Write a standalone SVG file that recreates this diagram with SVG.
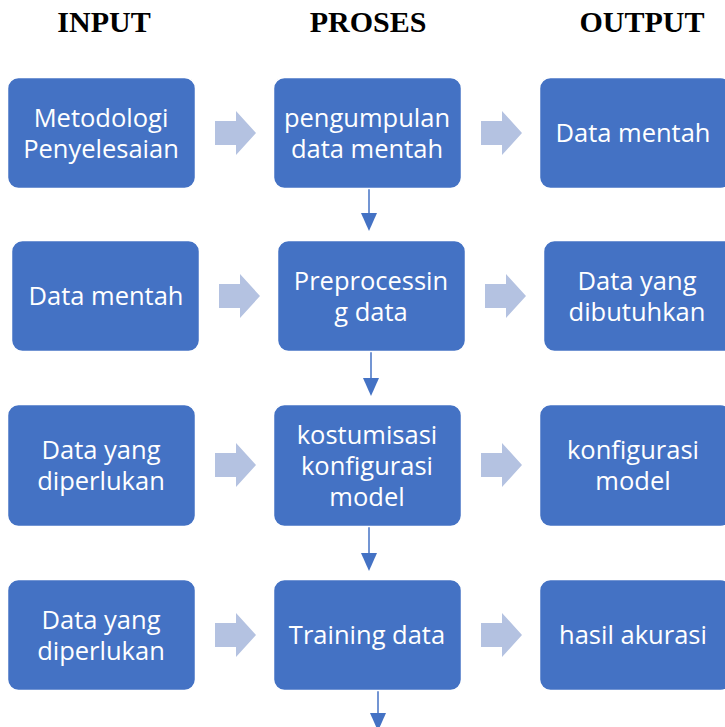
<svg xmlns="http://www.w3.org/2000/svg" width="725" height="727" viewBox="0 0 725 727">
  <style>
    .box { fill: #4472C4; stroke: #ffffff; stroke-width: 1.5; }
    .lbl { fill: #ffffff; font-family: "Open Sans", "Noto Sans", sans-serif; font-size: 25.5px; text-anchor: middle; }
    .hdr { fill: #000000; font-family: "Liberation Serif", serif; font-weight: bold; font-size: 30px; text-anchor: middle; }
    .blk { fill: #B4C2E1; }
    .down { stroke: #4472C4; stroke-width: 1.5; fill: none; }
    .head { fill: #4472C4; }
  </style>
  <defs>
    <!-- block arrow pointing right, origin at left/centre -->
    <path id="blockArrow" class="blk" d="M0,-12 H21 V-22 L41,0 L21,22 V12 H0 Z"/>
  </defs>
  <rect width="725" height="727" fill="#ffffff"/>

  <!-- column headings -->
  <text class="hdr" x="104" y="32">INPUT</text>
  <text class="hdr" x="368" y="32">PROSES</text>
  <text class="hdr" x="642" y="32">OUTPUT</text>

  <!-- connectors -->
  <g id="connectors">
    <use href="#blockArrow" x="215" y="133"/>
    <use href="#blockArrow" x="481" y="133"/>
    <use href="#blockArrow" x="219" y="296"/>
    <use href="#blockArrow" x="485" y="296"/>
    <use href="#blockArrow" x="215" y="465"/>
    <use href="#blockArrow" x="481" y="465"/>
    <use href="#blockArrow" x="215" y="635"/>
    <use href="#blockArrow" x="481" y="635"/>

    <line class="down" x1="369" y1="189" x2="369" y2="215"/>
    <path class="head" d="M361,213 L377,213 L369,231 Z"/>
    <line class="down" x1="371" y1="352" x2="371" y2="380"/>
    <path class="head" d="M363,378 L379,378 L371,396 Z"/>
    <line class="down" x1="369" y1="527" x2="369" y2="555"/>
    <path class="head" d="M361,553 L377,553 L369,571 Z"/>
    <line class="down" x1="378" y1="691" x2="378" y2="715"/>
    <path class="head" d="M370,713 L386,713 L378,731 Z"/>
  </g>

  <!-- row 1 -->
  <g id="metodologi">
    <rect class="box" x="7.5" y="77.5" width="188" height="111" rx="11"/>
    <text class="lbl" x="101" y="127">Metodologi</text>
    <text class="lbl" x="101" y="158">Penyelesaian</text>
  </g>
  <g id="pengumpulan">
    <rect class="box" x="273.5" y="77.5" width="188" height="111" rx="11"/>
    <text class="lbl" x="367" y="127">pengumpulan</text>
    <text class="lbl" x="367" y="158">data mentah</text>
  </g>
  <g id="out-data-mentah">
    <rect class="box" x="539.5" y="77.5" width="192" height="111" rx="11"/>
    <text class="lbl" x="633" y="142">Data mentah</text>
  </g>

  <!-- row 2 -->
  <g id="in-data-mentah">
    <rect class="box" x="11.5" y="240.5" width="188" height="111" rx="11"/>
    <text class="lbl" x="106" y="305">Data mentah</text>
  </g>
  <g id="preprocessing">
    <rect class="box" x="277.5" y="240.5" width="188" height="111" rx="11"/>
    <text class="lbl" x="371" y="290">Preprocessin</text>
    <text class="lbl" x="371" y="321">g data</text>
  </g>
  <g id="out-dibutuhkan">
    <rect class="box" x="543.5" y="240.5" width="192" height="111" rx="11"/>
    <text class="lbl" x="637" y="290">Data yang</text>
    <text class="lbl" x="637" y="321">dibutuhkan</text>
  </g>

  <!-- row 3 -->
  <g id="in-diperlukan-1">
    <rect class="box" x="7.5" y="404.5" width="188" height="122" rx="11"/>
    <text class="lbl" x="101" y="459">Data yang</text>
    <text class="lbl" x="101" y="490">diperlukan</text>
  </g>
  <g id="kostumisasi">
    <rect class="box" x="273.5" y="404.5" width="188" height="122" rx="11"/>
    <text class="lbl" x="367" y="444">kostumisasi</text>
    <text class="lbl" x="367" y="475">konfigurasi</text>
    <text class="lbl" x="367" y="506">model</text>
  </g>
  <g id="out-konfigurasi">
    <rect class="box" x="539.5" y="404.5" width="192" height="122" rx="11"/>
    <text class="lbl" x="633" y="459">konfigurasi</text>
    <text class="lbl" x="633" y="490">model</text>
  </g>

  <!-- row 4 -->
  <g id="in-diperlukan-2">
    <rect class="box" x="7.5" y="579.5" width="188" height="111" rx="11"/>
    <text class="lbl" x="101" y="629">Data yang</text>
    <text class="lbl" x="101" y="660">diperlukan</text>
  </g>
  <g id="training">
    <rect class="box" x="273.5" y="579.5" width="188" height="111" rx="11"/>
    <text class="lbl" x="367" y="644">Training data</text>
  </g>
  <g id="out-akurasi">
    <rect class="box" x="539.5" y="579.5" width="192" height="111" rx="11"/>
    <text class="lbl" x="633" y="644">hasil akurasi</text>
  </g>
</svg>
